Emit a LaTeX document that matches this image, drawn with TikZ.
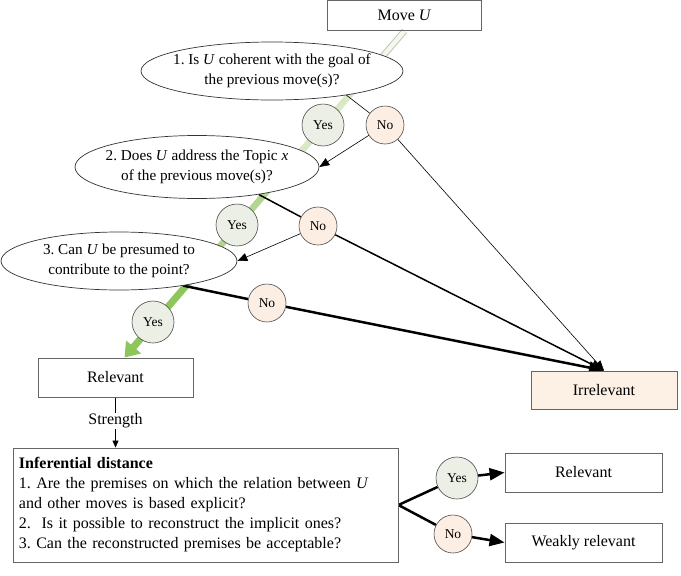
\documentclass[tikz,border=0pt]{standalone}
\usepackage{fontspec}
\setmainfont{Liberation Serif}
\usetikzlibrary{shapes.geometric,arrows.meta,calc}
\pgfdeclarelayer{background}
\pgfsetlayers{background,main}
\definecolor{yesfill}{HTML}{ECEFE6}
\definecolor{nofill}{HTML}{FCEEE3}
\definecolor{irrfill}{HTML}{FDF0E4}
\definecolor{gA}{HTML}{F4F7EF}
\definecolor{gAb}{HTML}{BCC8B4}
\definecolor{gB}{HTML}{D9E9C6}
\definecolor{gC}{HTML}{B3D68E}
\definecolor{gD}{HTML}{8DC65A}
\frenchspacing
\begin{document}
\begin{tikzpicture}[x=1pt,y=-1pt,
  txt/.style={font=\fontsize{16}{20}\selectfont},
  rbox/.style={txt, draw=black!60, line width=0.9pt, rectangle, inner sep=0pt, minimum height=39},
  qell/.style={ellipse, draw=black!80, line width=0.7pt, fill=white, inner sep=0pt},
  qtxt/.style={font=\fontsize{15.2}{20}\selectfont, align=center, inner sep=0pt},
  yesc/.style={circle, draw=black!70, line width=0.6pt, fill=yesfill, minimum size=42, inner sep=0pt, font=\fontsize{13.5}{15}\selectfont},
  noc/.style={circle, draw=black!70, line width=0.6pt, fill=nofill, minimum size=38, inner sep=0pt, font=\fontsize{13.5}{15}\selectfont},
  thinarr/.style={line width=0.6pt, -{Triangle[length=10pt,width=8pt]}},
  medarr/.style={line width=1.5pt, -{Triangle[length=13pt,width=10pt]}},
  thkarr/.style={line width=2.5pt, -{Triangle[length=15pt,width=12pt]}}
]
\useasboundingbox (0,0) rectangle (681,576);

% boxes
\node[rbox, minimum width=154, minimum height=30] (mu) at (404.5,15.5) {Move \textit{U}};
\node[rbox, minimum width=155] (rel) at (115.5,377.5) {Relevant};
\node[rbox, minimum width=146, minimum height=38, fill=irrfill] (irr) at (604,390) {Irrelevant};
\node[rbox, minimum width=157] (rel2) at (583.5,472.5) {Relevant};
\node[rbox, minimum width=157] (wr) at (583.5,542.5) {Weakly relevant};
\node[txt, draw=black!60, line width=0.9pt, rectangle, minimum width=385, minimum height=114,
      inner sep=6pt, text width=373, align=left] (inf) at (205.5,505)
  {\textbf{Inferential distance}\\
   1. Are the premises on which the relation between \textit{U}\\
   and other moves is based explicit?\\
   2.~ Is it possible to reconstruct the implicit ones?\\
   3. Can the reconstructed premises be acceptable?};

% questions
\node[qell, minimum width=262, minimum height=58] (e1) at (272,71) {};
\node[qtxt] (t1) at (e1.center) {1. Is \textit{U} coherent with the goal of\\the previous move(s)?};
\node[qell, minimum width=244, minimum height=63] (e2) at (197,167) {};
\node[qtxt] (t2) at (e2.center) {2. Does \textit{U} address the Topic \textit{x}\\of the previous move(s)?};
\node[qell, minimum width=236, minimum height=58] (e3) at (119,261) {};
\node[qtxt] (t3) at (e3.center) {3. Can \textit{U} be presumed to\\contribute to the point?};

% yes / no circles
\node[yesc] (y1) at (323,125) {Yes};
\node[noc]  (n1) at (385,125) {No};
\node[yesc] (y2) at (237,225) {Yes};
\node[noc]  (n2) at (318,226) {No};
\node[yesc] (y3) at (153,322) {Yes};
\node[noc]  (n3) at (267,303) {No};
\node[yesc] (y4) at (457,478) {Yes};
\node[noc]  (n4) at (453,534) {No};
\coordinate (P) at (inf.east);

\begin{pgfonlayer}{background}
  % green path
  \coordinate (gs) at (mu.south);
  \coordinate (ge) at ($(rel.north)+(9,0)$);
  \draw[line width=1pt, draw=gAb, double=gA, double distance=4.5pt] (gs) -- ($(gs)!0.13!(ge)$);
  \draw[line width=6.5pt, draw=gB] ($(gs)!0.12!(ge)$) -- ($(gs)!0.42!(ge)$);
  \draw[line width=6.5pt, draw=gC] ($(gs)!0.42!(ge)$) -- ($(gs)!0.70!(ge)$);
  \draw[line width=7pt, draw=gD, -{Triangle[length=14pt,width=19pt]}] ($(gs)!0.70!(ge)$) -- (ge);
  % no branches
  \draw[line width=0.6pt] (e1.-18) -- (n1);
  \draw[thinarr] (n1) -- (e2.east);
  \draw[thinarr] (n1) -- (irr.north);
  \draw[line width=1.5pt] (e2.-24) -- (n2);
  \draw[thinarr] (n2) -- (e3.east);
  \draw[medarr] (n2) -- (irr.north);
  \draw[line width=2.5pt] (e3.-21.5) -- (n3);
  \draw[thkarr] (n3) -- (irr.north);
  % strength
  \draw[line width=0.6pt, -{Triangle[length=7pt,width=6pt]}] (rel.south) --
     node[txt, fill=white, inner sep=1pt, pos=0.47] (str) {Strength} (rel.south |- inf.north);
  % inferential outcomes
  \draw[line width=2.5pt] (P) -- (y4);
  \draw[line width=2.5pt] (P) -- (n4);
  \draw[thkarr] (y4) -- (rel2.west);
  \draw[thkarr] (n4) -- (wr.west);
\end{pgfonlayer}
\end{tikzpicture}
\end{document}
